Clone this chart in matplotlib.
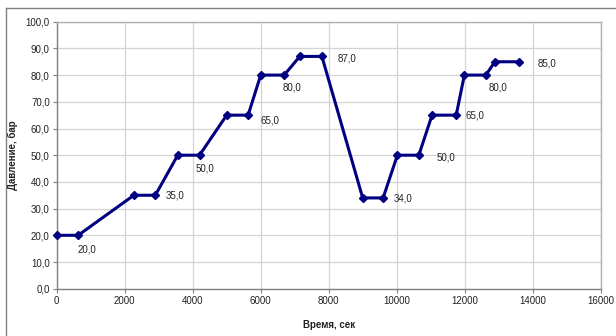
import matplotlib
matplotlib.use("Agg")
import matplotlib.pyplot as plt
from matplotlib.lines import Line2D

plt.rcParams['font.family'] = ['Liberation Sans', 'DejaVu Sans']

time_s = [0, 630, 2270, 2900, 3560, 4200, 5000, 5630, 6000, 6690, 7150, 7800,
          9000, 9600, 10020, 10650, 11040, 11750, 11990, 12620, 12890, 13590]
pressure = [20, 20, 35, 35, 50, 50, 65, 65, 80, 80, 87, 87,
            34, 34, 50, 50, 65, 65, 80, 80, 85, 85]
label_idx = [1, 3, 5, 7, 9, 11, 13, 15, 17, 19, 21]
# label offsets in pixels (dx right, dy down)
label_off = [(9, 14), (20, 0), (5, 13), (22, 5), (8, 12), (25, 2),
             (20, 1), (27, 2), (19, 0), (12, 12.5), (28, 1.5)]
x_ticks = [0, 2000, 4000, 6000, 8000, 10000, 12000, 14000, 16000]
y_ticks = [0, 10, 20, 30, 40, 50, 60, 70, 80, 90, 100]

W, H = 616, 336
fig = plt.figure(figsize=(W / 100, H / 100), dpi=100)
ax = fig.add_axes([56.7 / W, 1 - 288.7 / H, 544 / W, 267 / H])

line_col = '#000080'
ax.plot(time_s, pressure, color=line_col, lw=2.2, marker='D', ms=4.5,
        mfc=line_col, mec=line_col, zorder=3, clip_on=False)

for i, (dx, dy) in zip(label_idx, label_off):
    ax.annotate(f"{pressure[i]:.1f}".replace('.', ','), (time_s[i], pressure[i]),
                xytext=(dx, -dy), textcoords='offset pixels',
                ha='center', va='center', fontsize=7, color='#222222')

ax.set_xlim(0, 16000)
ax.set_ylim(0, 100)
ax.set_xticks(x_ticks)
ax.set_xticklabels([str(t) for t in x_ticks])
ax.set_yticks(y_ticks)
ax.set_yticklabels([f"{t:.1f}".replace('.', ',') for t in y_ticks])
ax.tick_params(labelsize=7, colors='#222222', length=3, width=0.8, direction='out',
               pad=2)
ax.tick_params(axis='both', color='#808080')

ax.grid(True, color='#d4d4d4', lw=0.9)
ax.set_axisbelow(True)
for s in ['left', 'bottom']:
    ax.spines[s].set_color('#808080')
    ax.spines[s].set_linewidth(1.0)
for s in ['top', 'right']:
    ax.spines[s].set_color('#b0b0b0')
    ax.spines[s].set_linewidth(1.0)

ax.set_ylabel('Давление, бар', fontsize=7, fontweight='bold', color='#222222')
ax.set_xlabel('Время, сек', fontsize=7, fontweight='bold', color='#222222')
ax.yaxis.set_label_coords(-0.071, 0.5)
ax.xaxis.set_label_coords(0.5, -0.117)

# outer chart frame
fig.add_artist(Line2D([5.5 / W, 5.5 / W], [0, 1 - 7.5 / H], transform=fig.transFigure,
                      color='#808080', lw=1.0))
fig.add_artist(Line2D([5.5 / W, 1], [1 - 7.5 / H, 1 - 7.5 / H], transform=fig.transFigure,
                      color='#808080', lw=1.0))

fig.savefig('out.png', dpi=100)
